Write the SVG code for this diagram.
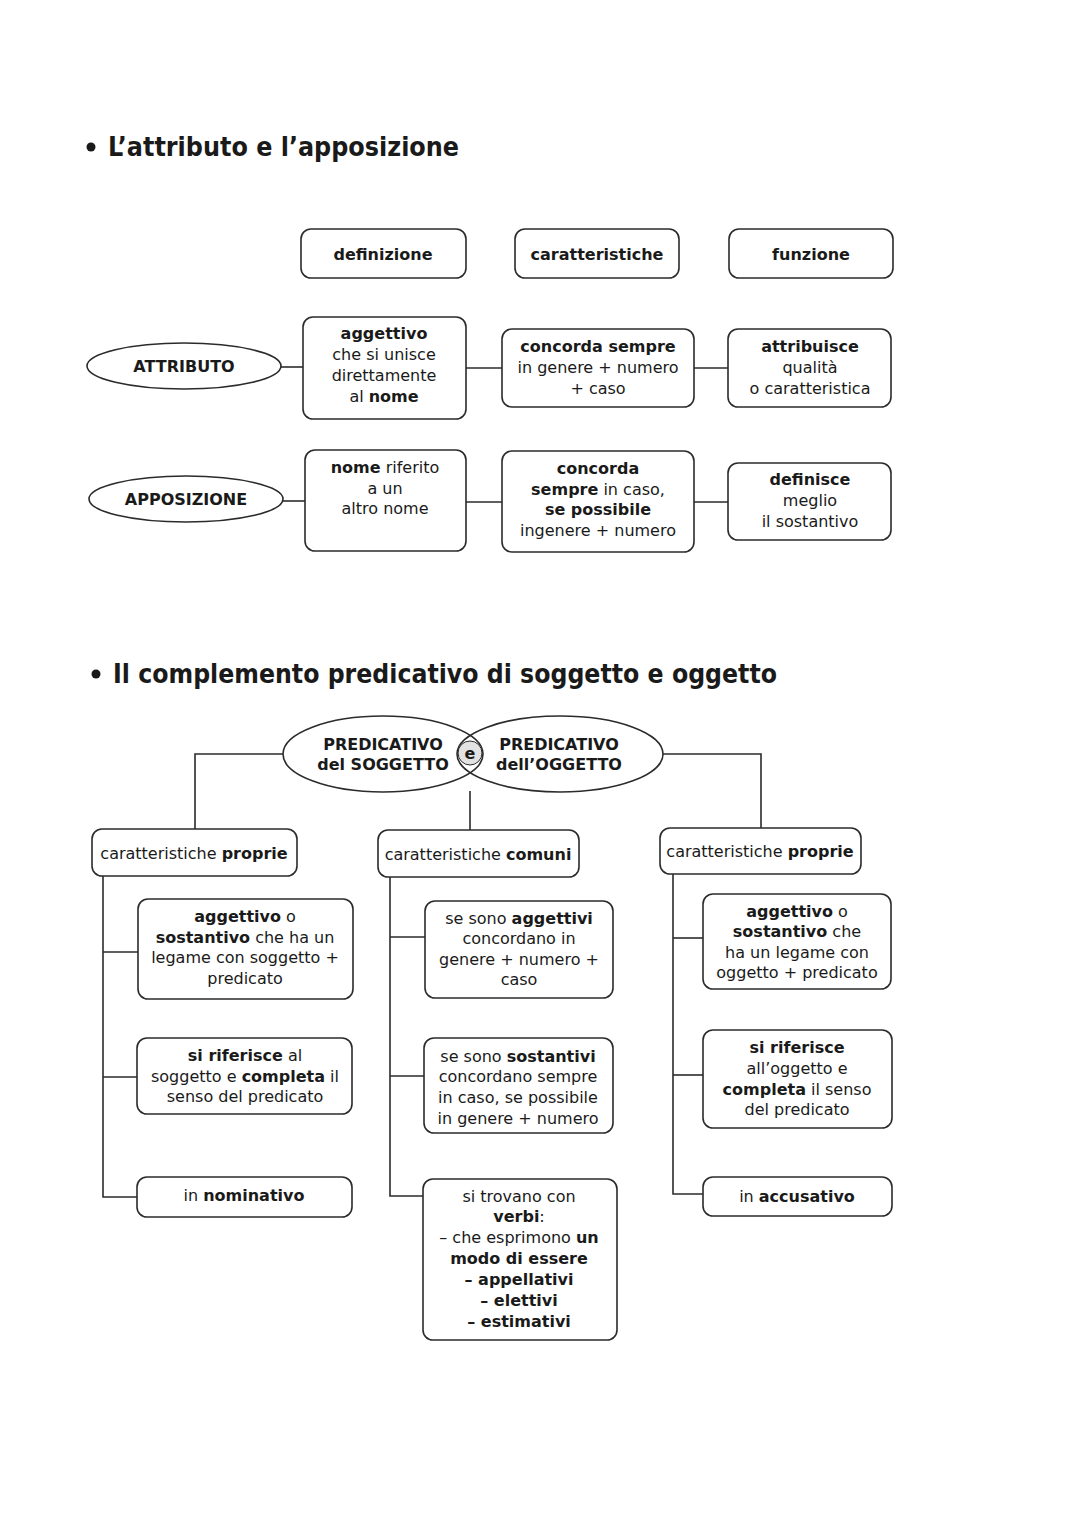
<svg xmlns="http://www.w3.org/2000/svg" width="1080" height="1527" viewBox="0 0 1080 1527">
<style>
.bg{fill:#fff}
.box{fill:#fff;stroke:#2b2b2b;stroke-width:1.6}
.ell{fill:#fff;stroke:#2b2b2b;stroke-width:1.6}
.ln{fill:none;stroke:#2b2b2b;stroke-width:1.6}
text{font-family:"DejaVu Sans",Verdana,sans-serif;font-size:16px;fill:#1a1a1a;text-anchor:middle}
.b{font-weight:bold}
.t{font-weight:bold;text-anchor:start;font-size:26px}
</style>
<rect class="bg" x="0" y="0" width="1080" height="1527"/>

<g id="title1">
<circle cx="91" cy="147" r="4.5" fill="#1a1a1a"/>
<text class="t" x="108" y="156" textLength="351" lengthAdjust="spacingAndGlyphs">L’attributo e l’apposizione</text>
</g>

<g id="connectors1">
<line class="ln" x1="281" y1="367" x2="303" y2="367"/>
<line class="ln" x1="466" y1="368" x2="502" y2="368"/>
<line class="ln" x1="694" y1="368" x2="728" y2="368"/>
<line class="ln" x1="283" y1="501" x2="305" y2="501"/>
<line class="ln" x1="466" y1="502" x2="502" y2="502"/>
<line class="ln" x1="694" y1="502" x2="728" y2="502"/>
</g>

<g id="h-definizione"><rect class="box" x="301" y="229" width="165" height="49" rx="10"/><text class="b" x="383" y="260">definizione</text></g>
<g id="h-caratteristiche"><rect class="box" x="515" y="229" width="164" height="49" rx="10"/><text class="b" x="597" y="260">caratteristiche</text></g>
<g id="h-funzione"><rect class="box" x="729" y="229" width="164" height="49" rx="10"/><text class="b" x="811" y="260">funzione</text></g>

<g id="attributo"><ellipse class="ell" cx="184" cy="366" rx="97" ry="23"/><text class="b" x="184" y="372">ATTRIBUTO</text></g>
<g id="attr-def"><rect class="box" x="303" y="317" width="163" height="102" rx="10"/>
<text class="b" x="384" y="339">aggettivo</text>
<text x="384" y="360">che si unisce</text>
<text x="384" y="381">direttamente</text>
<text x="384" y="402">al <tspan class="b">nome</tspan></text></g>
<g id="attr-car"><rect class="box" x="502" y="329" width="192" height="78" rx="10"/>
<text class="b" x="598" y="352">concorda sempre</text>
<text x="598" y="373">in genere + numero</text>
<text x="598" y="394">+ caso</text></g>
<g id="attr-fun"><rect class="box" x="728" y="329" width="163" height="78" rx="10"/>
<text class="b" x="810" y="352">attribuisce</text>
<text x="810" y="373">qualità</text>
<text x="810" y="394">o caratteristica</text></g>

<g id="apposizione"><ellipse class="ell" cx="186" cy="499" rx="97" ry="23"/><text class="b" x="186" y="505">APPOSIZIONE</text></g>
<g id="app-def"><rect class="box" x="305" y="450" width="161" height="101" rx="10"/>
<text x="385" y="473"><tspan class="b">nome</tspan> riferito</text>
<text x="385" y="494">a un</text>
<text x="385" y="514">altro nome</text></g>
<g id="app-car"><rect class="box" x="502" y="451" width="192" height="101" rx="10"/>
<text class="b" x="598" y="474">concorda</text>
<text x="598" y="495"><tspan class="b">sempre</tspan> in caso,</text>
<text class="b" x="598" y="515">se possibile</text>
<text x="598" y="536">ingenere + numero</text></g>
<g id="app-fun"><rect class="box" x="728" y="463" width="163" height="77" rx="10"/>
<text class="b" x="810" y="485">definisce</text>
<text x="810" y="506">meglio</text>
<text x="810" y="527">il sostantivo</text></g>

<g id="title2">
<circle cx="96" cy="674" r="4.5" fill="#1a1a1a"/>
<text class="t" x="113" y="683" textLength="664" lengthAdjust="spacingAndGlyphs">Il complemento predicativo di soggetto e oggetto</text>
</g>

<g id="connectors2">
<polyline class="ln" points="283,754 195,754 195,829"/>
<polyline class="ln" points="663,754 761,754 761,828"/>
<line class="ln" x1="470" y1="791" x2="470" y2="830"/>
<polyline class="ln" points="103,876 103,1197 137,1197"/>
<line class="ln" x1="103" y1="952" x2="138" y2="952"/>
<line class="ln" x1="103" y1="1077" x2="137" y2="1077"/>
<polyline class="ln" points="390,877 390,1196 423,1196"/>
<line class="ln" x1="390" y1="937" x2="425" y2="937"/>
<line class="ln" x1="390" y1="1076" x2="424" y2="1076"/>
<polyline class="ln" points="673,874 673,1194 703,1194"/>
<line class="ln" x1="673" y1="938" x2="703" y2="938"/>
<line class="ln" x1="673" y1="1075" x2="703" y2="1075"/>
</g>

<g id="predicativi">
<ellipse class="ell" cx="383" cy="754" rx="100" ry="38"/>
<ellipse class="ell" cx="560" cy="754" rx="103" ry="38" fill="none" style="fill:none"/>
<circle cx="470" cy="753" r="12" fill="#e2e2e2" stroke="#2b2b2b" stroke-width="1"/>
<text class="b" x="470" y="759">e</text>
<text class="b" x="383" y="750">PREDICATIVO</text>
<text class="b" x="383" y="770">del SOGGETTO</text>
<text class="b" x="559" y="750">PREDICATIVO</text>
<text class="b" x="559" y="770">dell’OGGETTO</text>
</g>

<g id="col-left-head"><rect class="box" x="92" y="829" width="205" height="47" rx="10"/><text x="194" y="859">caratteristiche <tspan class="b">proprie</tspan></text></g>
<g id="col-mid-head"><rect class="box" x="378" y="830" width="201" height="47" rx="10"/><text x="478" y="860">caratteristiche <tspan class="b">comuni</tspan></text></g>
<g id="col-right-head"><rect class="box" x="660" y="828" width="201" height="46" rx="10"/><text x="760" y="857">caratteristiche <tspan class="b">proprie</tspan></text></g>

<g id="left-1"><rect class="box" x="138" y="899" width="215" height="100" rx="10"/>
<text x="245" y="922"><tspan class="b">aggettivo</tspan> o</text>
<text x="245" y="943"><tspan class="b">sostantivo</tspan> che ha un</text>
<text x="245" y="963">legame con soggetto +</text>
<text x="245" y="984">predicato</text></g>
<g id="left-2"><rect class="box" x="137" y="1038" width="215" height="76" rx="10"/>
<text x="245" y="1061"><tspan class="b">si riferisce</tspan> al</text>
<text x="245" y="1082">soggetto e <tspan class="b">completa</tspan> il</text>
<text x="245" y="1102">senso del predicato</text></g>
<g id="left-3"><rect class="box" x="137" y="1177" width="215" height="40" rx="10"/>
<text x="244" y="1201">in <tspan class="b">nominativo</tspan></text></g>

<g id="mid-1"><rect class="box" x="425" y="901" width="188" height="97" rx="10"/>
<text x="519" y="924">se sono <tspan class="b">aggettivi</tspan></text>
<text x="519" y="944">concordano in</text>
<text x="519" y="965">genere + numero +</text>
<text x="519" y="985">caso</text></g>
<g id="mid-2"><rect class="box" x="424" y="1038" width="189" height="95" rx="10"/>
<text x="518" y="1062">se sono <tspan class="b">sostantivi</tspan></text>
<text x="518" y="1082">concordano sempre</text>
<text x="518" y="1103">in caso, se possibile</text>
<text x="518" y="1124">in genere + numero</text></g>
<g id="mid-3"><rect class="box" x="423" y="1179" width="194" height="161" rx="10"/>
<text x="519" y="1202">si trovano con</text>
<text class="b" x="519" y="1222">verbi<tspan font-weight="normal">:</tspan></text>
<text x="519" y="1243">– che esprimono <tspan class="b">un</tspan></text>
<text class="b" x="519" y="1264">modo di essere</text>
<text class="b" x="519" y="1285">– appellativi</text>
<text class="b" x="519" y="1306">– elettivi</text>
<text class="b" x="519" y="1327">– estimativi</text></g>

<g id="right-1"><rect class="box" x="703" y="894" width="188" height="95" rx="10"/>
<text x="797" y="917"><tspan class="b">aggettivo</tspan> o</text>
<text x="797" y="937"><tspan class="b">sostantivo</tspan> che</text>
<text x="797" y="958">ha un legame con</text>
<text x="797" y="978">oggetto + predicato</text></g>
<g id="right-2"><rect class="box" x="703" y="1030" width="189" height="98" rx="10"/>
<text class="b" x="797" y="1053">si riferisce</text>
<text x="797" y="1074">all’oggetto e</text>
<text x="797" y="1095"><tspan class="b">completa</tspan> il senso</text>
<text x="797" y="1115">del predicato</text></g>
<g id="right-3"><rect class="box" x="703" y="1177" width="189" height="39" rx="10"/>
<text x="797" y="1202">in <tspan class="b">accusativo</tspan></text></g>
</svg>
